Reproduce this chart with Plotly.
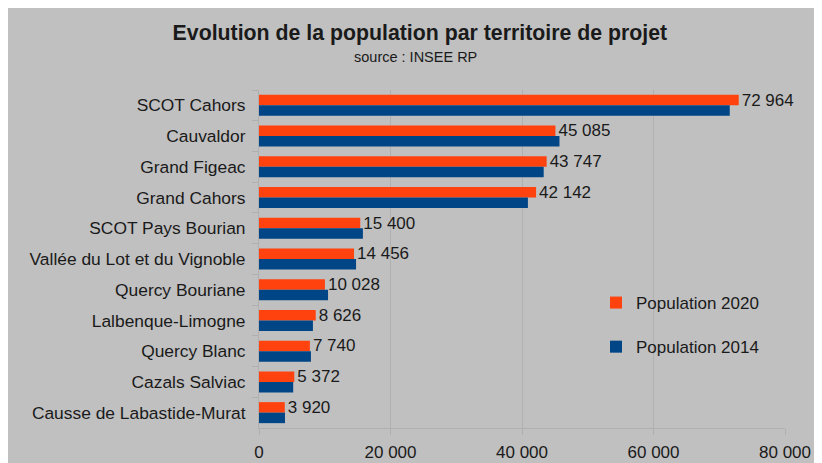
import plotly.graph_objects as go

categories = ["SCOT Cahors", "Cauvaldor", "Grand Figeac", "Grand Cahors", "SCOT Pays Bourian",
              "Vallée du Lot et du Vignoble", "Quercy Bouriane", "Lalbenque-Limogne",
              "Quercy Blanc", "Cazals Salviac", "Causse de Labastide-Murat"]
pop2020 = [72964, 45085, 43747, 42142, 15400, 14456, 10028, 8626, 7740, 5372, 3920]
pop2014 = [71600, 45700, 43300, 40900, 15800, 14760, 10500, 8200, 7900, 5200, 3950]
tick_vals = [0, 20000, 40000, 60000, 80000]

FONT = "Liberation Sans, Arial, sans-serif"
GRID = "#b0b0b0"
TXT = "#1a1a1a"

fig = go.Figure()
fig.add_trace(go.Bar(
    y=categories, x=pop2020, orientation="h", name="Population 2020",
    marker=dict(color="#ff420e", line=dict(width=0)),
    texttemplate="%{x:,}", textposition="outside", cliponaxis=False,
    constraintext="none", textfont=dict(size=17, color=TXT, family=FONT),
    legendgroup="a",
))
fig.add_trace(go.Bar(
    y=categories, x=pop2014, orientation="h", name="Population 2014",
    marker=dict(color="#004586", line=dict(width=0)),
    legendgroup="b",
))

fig.update_layout(
    width=814, height=455,
    margin=dict(l=251, r=37, t=82, b=35, autoexpand=False),
    paper_bgcolor="#c0c0c0", plot_bgcolor="#c0c0c0",
    separators=", ",
    font=dict(family=FONT, size=17, color=TXT),
    barmode="group", bargap=0.316, bargroupgap=0,
    title=dict(
        text="<b>Evolution de la population par territoire de projet</b>",
        x=0.506, xanchor="center", y=0.947, yanchor="middle",
        font=dict(size=21.3, family=FONT, color=TXT),
    ),
    annotations=[dict(
        text="source : INSEE RP", xref="paper", yref="paper",
        x=0.2966, y=1.0977, xanchor="center", yanchor="middle",
        showarrow=False, font=dict(size=14.5, family=FONT, color=TXT),
    )],
    showlegend=True,
    legend=dict(
        x=0.6407, xanchor="left", y=0.3047, yanchor="middle",
        bgcolor="rgba(0,0,0,0)", font=dict(size=17, family=FONT),
        tracegroupgap=19, traceorder="grouped",
    ),
    xaxis=dict(
        range=[0, 80000], tickvals=tick_vals, tickformat=",d",
        showgrid=True, gridcolor=GRID, gridwidth=1,
        showline=True, linecolor=GRID, linewidth=1,
        ticks="outside", ticklen=6, tickcolor=GRID,
        zeroline=False, tickfont=dict(size=17), ticklabelstandoff=3,
        automargin=False,
    ),
    yaxis=dict(
        autorange="reversed", showgrid=False,
        showline=True, linecolor=GRID, linewidth=1,
        ticks="outside", ticklen=6, tickcolor=GRID, tickson="boundaries",
        tickfont=dict(size=17.4), ticklabelstandoff=9, automargin=False,
    ),
)

fig.write_html("out.html")
